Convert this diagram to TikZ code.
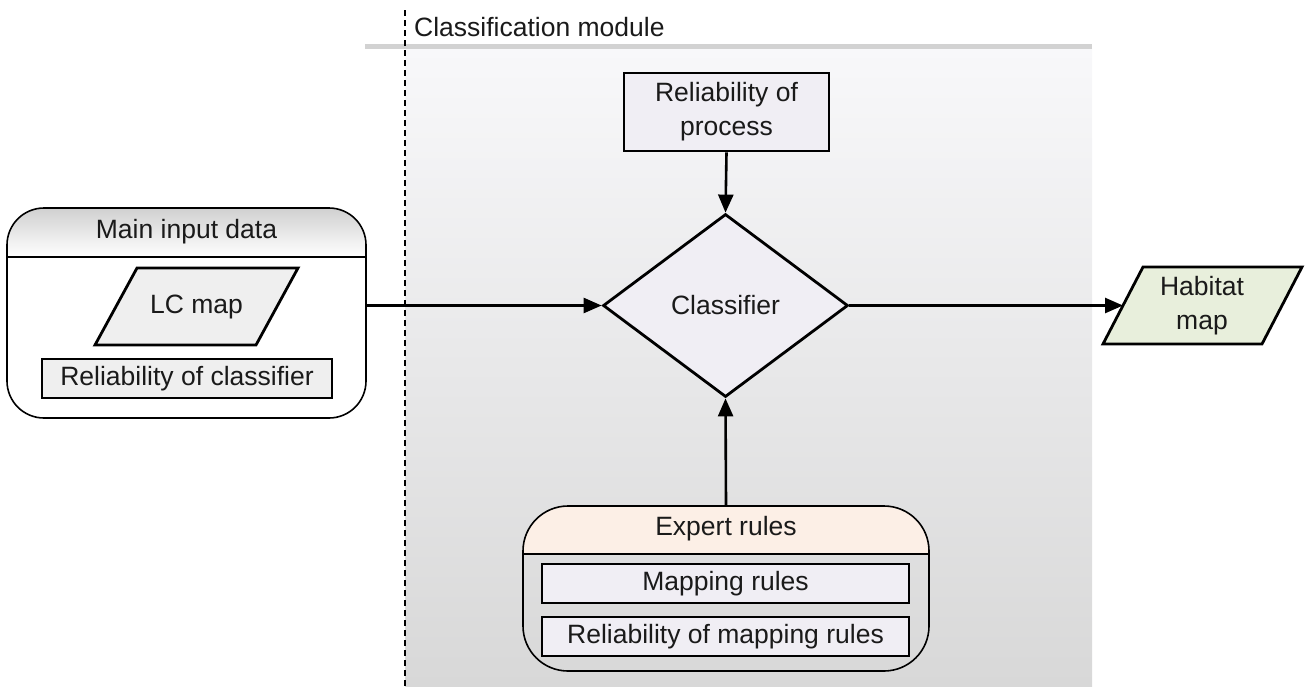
\documentclass[tikz,border=0pt]{standalone}
\usepackage{fontspec}
\setmainfont{Liberation Sans}
\usetikzlibrary{shapes.geometric,arrows.meta}
\definecolor{txt}{HTML}{1A1A1A}
\definecolor{bgtop}{HTML}{F8F8FA}
\definecolor{bgbot}{HTML}{D8D8D8}
\definecolor{sepline}{HTML}{D2D2D2}
\definecolor{boxfill}{HTML}{F0EEF4}
\definecolor{grayfill}{HTML}{EFEFEF}
\definecolor{peach}{HTML}{FCEFE6}
\definecolor{habgreen}{HTML}{E8EFDC}
\definecolor{hdrtop}{HTML}{D0D0D0}
\tikzset{
  every node/.style={font=\fontsize{26.5}{34}\selectfont, text=txt},
  boxstyle/.style={draw=black, line width=2.8pt, rectangle, inner sep=0pt, align=center},
  container/.style={draw=black, line width=1.6pt, rectangle, inner sep=0pt},
  ioshape/.style={draw=black, line width=2.8pt, line join=miter},
  decision/.style={draw=black, line width=2.8pt, diamond, inner sep=0pt, fill=boxfill},
  flow/.style={line width=2.6pt, -{Triangle[length=18pt,width=15pt]}},
  plain/.style={inner sep=0pt, align=center}
}
\begin{document}
\begin{tikzpicture}[x=1pt,y=-1pt]
\useasboundingbox (0,0) rectangle (1305,686);
% module background
\shade[top color=bgtop, bottom color=bgbot] (405,48) rectangle (1092,686);
\draw[sepline, line width=5pt] (365,46.5) -- (1092,46.5);
\draw[black, line width=1.3pt, dash pattern=on 6pt off 4pt] (405,10) -- (405,686);
\node[plain, anchor=west] (modtitle) at (414,27) {Classification module};

% main input container
\begin{scope}
\clip[rounded corners=37pt] (7,208) rectangle (366,418);
\fill[white] (7,208) rectangle (366,418);
\shade[top color=hdrtop, bottom color=white] (7,208) rectangle (366,257);
\end{scope}
\node[container, rounded corners=37pt, minimum width=359pt, minimum height=210pt] (main) at (186.5,313) {};
\draw[black, line width=1.6pt] (7,257) -- (366,257);
\node[plain] (maintitle) at (186.5,232) {Main input data};
\filldraw[ioshape, fill=grayfill] (95,345) -- (137,268) -- (298,268) -- (256,345) -- cycle;
\node[plain] (lc) at (196.5,306.5) {LC map};
\node[boxstyle, fill=grayfill, minimum width=290pt, minimum height=39pt] (relclass) at (187,378.5) {Reliability of classifier};

% process reliability
\node[boxstyle, fill=boxfill, minimum width=205pt, minimum height=78pt] (relproc) at (726.5,112) {Reliability of\\process};

% classifier
\node[decision, minimum width=245pt, minimum height=183pt] (cls) at (725.5,305.5) {Classifier};

% expert rules container
\begin{scope}
\clip[rounded corners=45pt] (523,506) rectangle (929,671);
\fill[peach] (523,506) rectangle (929,554);
\end{scope}
\node[container, rounded corners=45pt, minimum width=406pt, minimum height=165pt] (expert) at (726,588.5) {};
\draw[black, line width=1.6pt] (523,554) -- (929,554);
\node[plain] (experttitle) at (726,529) {Expert rules};
\node[boxstyle, fill=boxfill, minimum width=367pt, minimum height=39pt] (maprules) at (725.5,583.5) {Mapping rules};
\node[boxstyle, fill=boxfill, minimum width=367pt, minimum height=39pt] (relmap) at (725.5,636.5) {Reliability of mapping rules};

% habitat map
\filldraw[ioshape, fill=habgreen] (1103,344) -- (1143,267) -- (1302,267) -- (1262,344) -- cycle;
\node[plain] (hab) at (1202,305.5) {Habitat\\map};
\coordinate (habin) at (1123,305.5);

% connectors
\draw[flow] (main.east |- cls.west) -- (cls.west);
\draw[flow] (relproc.south) -- (cls.north);
\draw[flow] (expert.north) -- (cls.south);
\draw[flow] (cls.east) -- (habin);
\end{tikzpicture}
\end{document}
